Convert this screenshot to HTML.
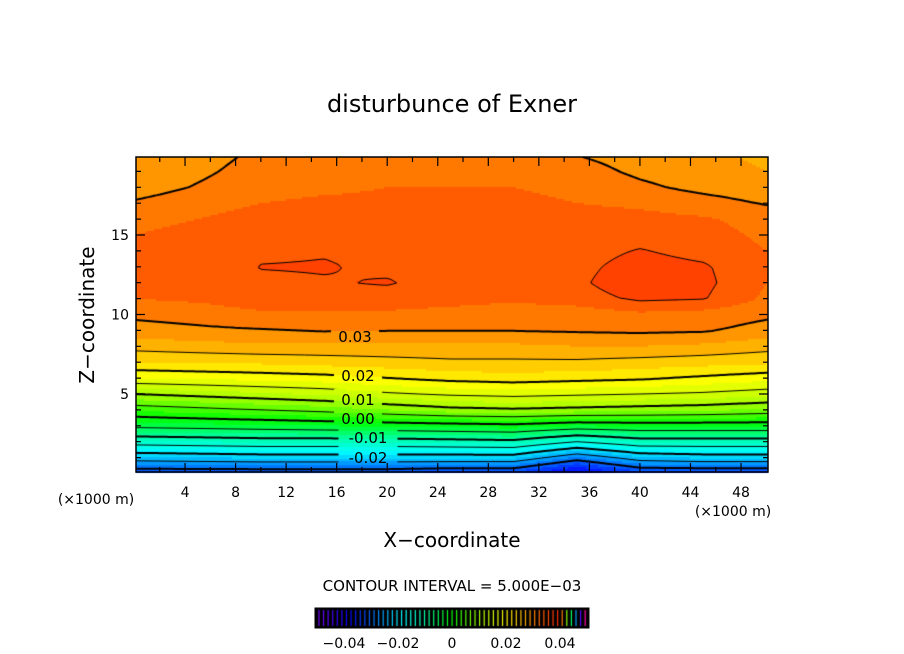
<!DOCTYPE html>
<html><head><meta charset="utf-8"><style>
html,body{margin:0;padding:0;background:#fff;width:904px;height:654px;overflow:hidden}
#wrap{position:relative;width:904px;height:654px}
canvas{position:absolute;left:0;top:0}
svg{position:absolute;left:0;top:0}
text{font-family:"DejaVu Sans","Liberation Sans",sans-serif;fill:#000}
</style></head><body>
<div id="wrap">
<canvas id="cv" width="904" height="654"></canvas>
<svg id="sv" width="904" height="654"></svg>
</div>
<script>
// ---- data ----
const xCoords=[0,5,10,15,20,25,30,35,40,45,50];
const zCoords=[0,1,2,3,4,5,6,7,8,9,10,11,12,13,14,15,16,17,18,19,20];
const fieldRows=[
[-.033,-.033,-.033,-.033,-.033,-.034,-.034,-.040,-.034,-.034,-.034],
[-.023,-.0225,-.022,-.022,-.022,-.022,-.022,-.028,-.023,-.022,-.022],
[-.013,-.0125,-.012,-.012,-.012,-.0115,-.011,-.015,-.012,-.012,-.012],
[-.004,-.0035,-.003,-.0025,-.002,-.0015,-.001,-.0025,-.002,-.002,-.002],
[.003,.004,.005,.006,.0075,.009,.0095,.009,.0085,.008,.007],
[.010,.011,.012,.013,.0145,.0155,.016,.0155,.015,.0145,.0135],
[.0175,.018,.0185,.019,.020,.021,.0215,.021,.0205,.0195,.0185],
[.0225,.0228,.023,.0235,.024,.0245,.0245,.0245,.024,.0235,.023],
[.026,.0265,.027,.027,.027,.027,.027,.0275,.0275,.027,.026],
[.029,.0295,.0298,.0302,.0301,.0301,.0301,.0303,.0305,.0303,.029],
[.0305,.031,.032,.032,.032,.0315,.031,.031,.032,.0315,.0305],
[.0325,.033,.034,.0345,.034,.0335,.033,.0338,.0355,.0352,.032],
[.033,.0335,.0345,.0348,.0352,.034,.0335,.0345,.0368,.0357,.0325],
[.033,.0335,.0351,.0352,.0345,.034,.0335,.0342,.0362,.0354,.0325],
[.0328,.0333,.0345,.0348,.0345,.034,.0335,.0338,.0352,.034,.0325],
[.0325,.033,.034,.0345,.034,.0338,.0335,.0335,.0338,.0335,.032],
[.032,.0325,.0335,.034,.0335,.0335,.0335,.0335,.0333,.0328,.0315],
[.0303,.0315,.0325,.033,.033,.033,.033,.0325,.032,.031,.0298],
[.0288,.0302,.0315,.032,.0325,.0325,.0325,.032,.0305,.0293,.0285],
[.028,.0295,.031,.0318,.032,.032,.032,.031,.0295,.0285,.0275],
[.0275,.029,.0305,.0315,.0318,.0318,.0318,.030,.029,.028,.027]];
const xTickLabels=[4,8,12,16,20,24,28,32,36,40,44,48];
const zTickLabels=[5,10,15];
const contourLevels=[-.03,-.025,-.02,-.015,-.01,-.005,0,.005,.01,.015,.02,.025,.03,.035];
const lineLabels=[["0.03",.03],["0.02",.02],["0.01",.01],["0.00",0],["-0.01",-.01],["-0.02",-.02]];
const cbLabels=[-.04,-.02,0,.02,.04];
// ---- geometry ----
const PL=136,PR=768,PT=157,PB=472;
const X0=134.5,XS=12.636, Z0=473.5,ZS=15.9;
const sx=x=>X0+x*XS, sz=z=>Z0-z*ZS;
const ix=p=>(p-X0)/XS, iz=p=>(Z0-p)/ZS;
function field(x,z){
  x=Math.max(0,Math.min(50,x)); z=Math.max(0,Math.min(20,z));
  let i=Math.min(xCoords.length-2,Math.floor(x/5)); let j=Math.min(zCoords.length-2,Math.floor(z));
  let tx=(x-xCoords[i])/5, tz=z-zCoords[j];
  const a=fieldRows[j][i],b=fieldRows[j][i+1],c=fieldRows[j+1][i],d=fieldRows[j+1][i+1];
  return a*(1-tx)*(1-tz)+b*tx*(1-tz)+c*(1-tx)*tz+d*tx*tz;
}
const hueV=[-.05,-.04,-.03,-.02,-.01,0,.01,.02,.03,.035,.04,.05];
const hueH=[270,245,215,185,160,120,80,58,32,18,8,350];
function color(v){
  v=Math.max(-.05,Math.min(.05,v));
  let k=0; while(k<hueV.length-2&&v>hueV[k+1])k++;
  const t=(v-hueV[k])/(hueV[k+1]-hueV[k]);
  const h=hueH[k]+(hueH[k+1]-hueH[k])*t;
  return `hsl(${h},100%,50%)`;
}
// ---- fill ----
const cv=document.getElementById('cv'),ctx=cv.getContext('2d');
for(let py=PT;py<PB;py+=2){for(let px=PL;px<PR;px+=2){
  const v=field(ix(px+1),iz(py+1));
  const q=Math.floor(v/.0025)*.0025+.00125;
  ctx.fillStyle=color(q);ctx.fillRect(px,py,2,2);
}}
// ---- contour lines (marching squares) ----
const labX=[355,358,358,358,368,368];
const labY=[336,375,399,418,437,457];
ctx.save();
ctx.beginPath();ctx.rect(PL,PT,PR-PL,PB-PT);
for(let k=0;k<labX.length;k++){ctx.rect(labX[k]-(lineLabels[k][0].length*5.5)-2,labY[k]-10,lineLabels[k][0].length*11+4,20);}
ctx.clip('evenodd');
const st=3;
contourLevels.forEach(L=>{
  const isThick=Math.abs(Math.round(L*100)-L*100)<1e-6;
  ctx.lineWidth=isThick?2:1;ctx.strokeStyle='#000';
  ctx.setLineDash(L<0?[7,4]:[]);
  ctx.beginPath();
  for(let py=PT;py<PB;py+=st){for(let px=PL;px<PR;px+=st){
    const v0=field(ix(px),iz(py))-L,v1=field(ix(px+st),iz(py))-L,v2=field(ix(px+st),iz(py+st))-L,v3=field(ix(px),iz(py+st))-L;
    const pts=[];
    const e=(a,b,pa,pb)=>{if((a<0)!==(b<0)){const t=a/(a-b);pts.push([pa[0]+(pb[0]-pa[0])*t,pa[1]+(pb[1]-pa[1])*t]);}};
    const P0=[px,py],P1=[px+st,py],P2=[px+st,py+st],P3=[px,py+st];
    e(v0,v1,P0,P1);e(v1,v2,P1,P2);e(v2,v3,P2,P3);e(v3,v0,P3,P0);
    for(let m=0;m+1<pts.length;m+=2){ctx.moveTo(pts[m][0],pts[m][1]);ctx.lineTo(pts[m+1][0],pts[m+1][1]);}
  }}
  ctx.stroke();
});
ctx.restore();
// ---- colorbar ----
ctx.fillStyle='#000';ctx.fillRect(315,608,274,20);
for(let v=-.0495;v<=.05;v+=.0017){
  ctx.fillStyle=color(v);ctx.fillRect(452+v/.02*54,610,1.2,16);
}
// ---- svg overlay ----
const NS='http://www.w3.org/2000/svg',sv=document.getElementById('sv');
function mk(tag,attrs,txt){const el=document.createElementNS(NS,tag);for(const k in attrs)el.setAttribute(k,attrs[k]);if(txt!==undefined)el.textContent=txt;sv.appendChild(el);return el;}
let el;
el=mk('rect',{x:PL,y:PT,width:PR-PL,height:PB-PT,fill:'none',stroke:'#000','stroke-width':1.5});


for(let x=2;x<50;x+=2){const major=x%4===0;const len=major?9:5;const X=sx(x);
  el=mk('path',{d:`M${X},${PB}v${-len}M${X},${PT}v${len}`,stroke:'#000','stroke-width':1.2});
  
  }
for(let z=1;z<20;z++){const major=z%5===0;const len=major?9:5;const Y=sz(z);
  el=mk('path',{d:`M${PL},${Y}h${len}M${PR},${Y}h${-len}`,stroke:'#000','stroke-width':1.2});
  
  }
xTickLabels.forEach(x=>{el=mk('text',{x:sx(x),y:497,'font-size':14,'text-anchor':'middle'},String(x));
  
  });
zTickLabels.forEach(z=>{el=mk('text',{x:129,y:sz(z)+5,'font-size':14,'text-anchor':'end'},String(z));
  
  });
lineLabels.forEach((l,k)=>{el=mk('text',{x:labX[k],y:labY[k]+6,'font-size':15,'text-anchor':'middle'},l[0]);
  
  });
el=mk('text',{x:452,y:112,'font-size':24,'text-anchor':'middle'},'disturbunce of Exner');


el=mk('text',{x:452,y:547,'font-size':20,'text-anchor':'middle'},'X\u2212coordinate');


el=mk('text',{x:0,y:0,'font-size':20,'text-anchor':'middle',transform:'translate(94,315) rotate(-90)'},'Z\u2212coordinate');


el=mk('text',{x:96,y:504,'font-size':14,'text-anchor':'middle'},'(\u00d71000 m)');


el=mk('text',{x:733,y:516,'font-size':14,'text-anchor':'middle'},'(\u00d71000 m)');


el=mk('text',{x:452,y:591,'font-size':15,'text-anchor':'middle'},'CONTOUR INTERVAL = 5.000E\u221203');


el=mk('rect',{x:315,y:608,width:274,height:20,fill:'none',stroke:'#000','stroke-width':1});


cbLabels.forEach(v=>{el=mk('text',{x:452+v/.02*54,y:648,'font-size':14,'text-anchor':'middle'},v===0?'0':(v<0?'\u2212':'')+Math.abs(v).toFixed(2));
  
  });
</script>
</body></html>
